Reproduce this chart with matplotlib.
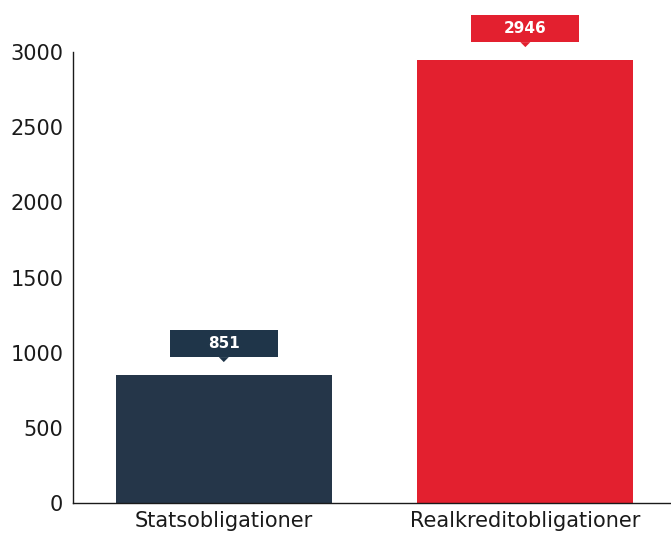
import matplotlib
matplotlib.use("Agg")
import matplotlib.pyplot as plt
from matplotlib.patches import Rectangle, Polygon

categories = ["Statsobligationer", "Realkreditobligationer"]
values = [851, 2946]
bar_colors = ["#253649", "#e3202f"]
label_colors = ["#1f3549", "#e3202f"]
yticks = [0, 500, 1000, 1500, 2000, 2500, 3000]

plt.rcParams["font.family"] = ["DejaVu Sans"]

fig = plt.figure(figsize=(6.71, 5.34), dpi=100)
ax = fig.add_axes([0.1088, 0.058, 0.8912, 0.8446])

x = range(len(categories))
ax.bar(x, values, width=0.716, color=bar_colors, zorder=2)

ax.set_xlim(-0.5, 1.483)
ax.set_ylim(0, 3000)
ax.set_yticks(yticks)
ax.set_yticklabels([str(t) for t in yticks], fontsize=15, color="#1a1a1a")
ax.set_xticks(list(x))
ax.set_xticklabels(categories, fontsize=15, color="#1a1a1a")
ax.tick_params(axis="y", length=0, pad=7)
ax.tick_params(axis="x", length=0, pad=6)
for s in ["top", "right"]:
    ax.spines[s].set_visible(False)
for s in ["left", "bottom"]:
    ax.spines[s].set_color("#1a1a1a")
    ax.spines[s].set_linewidth(1.0)

# value callouts above bars (sizes in px converted to data units)
px_x = 1 / 301.5
px_y = 3000 / 451
bw, bh, gap = 108 * px_x, 27 * px_y, 18 * px_y
tw, th = 5 * px_x, 5 * px_y
for xi, v, c in zip(x, values, label_colors):
    y0 = v + gap
    ax.add_patch(Rectangle((xi - bw / 2, y0), bw, bh, facecolor=c,
                           edgecolor="none", clip_on=False, zorder=3))
    ax.add_patch(Polygon([(xi - tw, y0), (xi + tw, y0), (xi, y0 - th)],
                         closed=True, facecolor=c, edgecolor="none",
                         clip_on=False, zorder=3))
    ax.text(xi, y0 + bh / 2, str(v), ha="center", va="center", color="white",
            fontsize=11, fontweight="bold", zorder=4)

fig.savefig("out.png", dpi=100)
